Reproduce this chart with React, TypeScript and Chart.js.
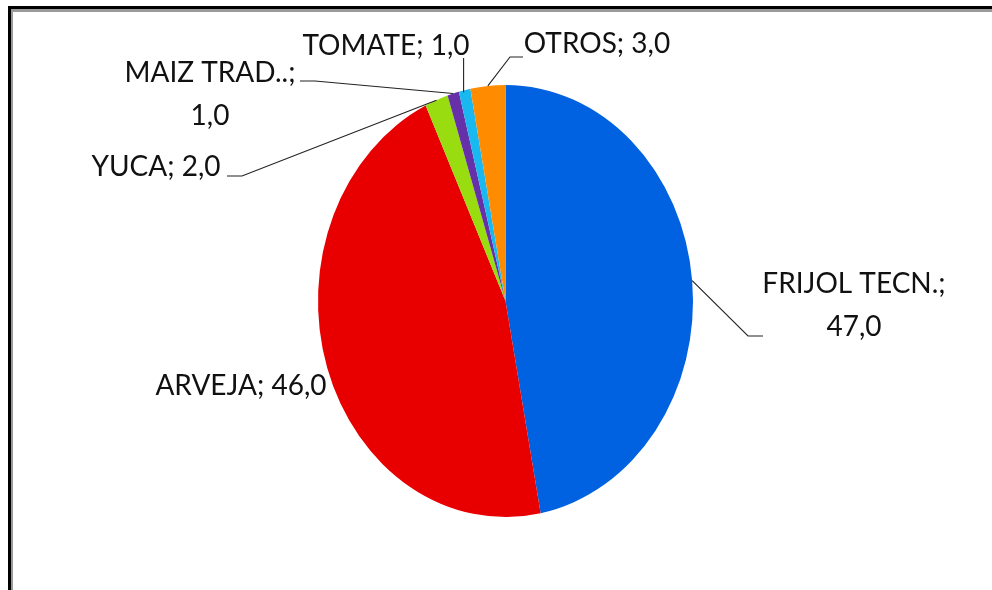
import React, { useEffect, useRef } from "react";
import { Chart, registerables } from "chart.js";

Chart.register(...registerables);

const categories = ["FRIJOL TECN.", "ARVEJA", "YUCA", "MAIZ TRAD..", "TOMATE", "OTROS"];
const values = [47.0, 46.0, 2.0, 1.0, 1.0, 3.0];
const colors = ["#0062E0", "#E80000", "#99DD11", "#6530A8", "#1AB8F0", "#FF8C00"];

// label layout: text centre x, baseline y, wrap after ";", optional elbow & stub end
const labelLayout = [
  { cx: 854, by: 293, wrap: true, elbow: [748, 336], stub: [763, 336] },
  { cx: 241, by: 395, wrap: false, elbow: null, stub: null },
  { cx: 156, by: 176, wrap: false, elbow: [242, 176], stub: [227, 176] },
  { cx: 210, by: 82, wrap: true, elbow: [315, 81], stub: [300, 81] },
  { cx: 386, by: 55, wrap: false, elbow: "vertical", stub: 58 },
  { cx: 597, by: 53, wrap: false, elbow: [510, 57], stub: [523, 57] },
];

const Y_STRETCH = 1.152;
const FONT = "28px Lato, 'Liberation Sans', sans-serif";

const fmt = (v: number) => v.toFixed(1).replace(".", ",");

const ellipsePlugin = {
  id: "ellipsePie",
  beforeDraw(chart: any) {
    const ctx = chart.ctx;
    ctx.save();
    ctx.fillStyle = "#ffffff";
    ctx.fillRect(0, 0, chart.width, chart.height);
    // frame
    ctx.fillStyle = "#000000";
    ctx.fillRect(8, 6, chart.width - 8, 3);
    ctx.fillRect(8, 6, 3, chart.height - 6);
    ctx.fillStyle = "#9a9a9a";
    ctx.fillRect(11, 9, chart.width - 11, 3);
    ctx.fillRect(11, 9, 2, chart.height - 9);
    ctx.restore();
  },
  beforeDatasetsDraw(chart: any) {
    const ctx = chart.ctx;
    const a = chart.chartArea;
    const cx = (a.left + a.right) / 2;
    const cy = (a.top + a.bottom) / 2;
    ctx.save();
    ctx.translate(cx, cy);
    ctx.scale(1, Y_STRETCH);
    ctx.translate(-cx, -cy);
  },
  afterDatasetsDraw(chart: any) {
    chart.ctx.restore();
  },
  afterDraw(chart: any) {
    const ctx = chart.ctx;
    const meta = chart.getDatasetMeta(0);
    ctx.save();
    ctx.font = FONT;
    ctx.fillStyle = "#111111";
    ctx.strokeStyle = "#222222";
    ctx.lineWidth = 1.1;
    ctx.textAlign = "center";
    ctx.textBaseline = "alphabetic";
    meta.data.forEach((arc: any, i: number) => {
      const L = labelLayout[i];
      const mid = (arc.startAngle + arc.endAngle) / 2;
      const ax = arc.x + Math.cos(mid) * arc.outerRadius;
      const ay = arc.y + Math.sin(mid) * arc.outerRadius * Y_STRETCH;
      if (L.elbow === "vertical") {
        ctx.beginPath();
        ctx.moveTo(ax - 1, ay + 2);
        ctx.lineTo(ax - 1, L.stub as number);
        ctx.stroke();
      } else if (L.elbow) {
        const e = L.elbow as number[];
        const s = L.stub as number[];
        ctx.beginPath();
        ctx.moveTo(ax, ay);
        ctx.lineTo(e[0], e[1]);
        ctx.lineTo(s[0], s[1]);
        ctx.stroke();
      }
      const val = fmt(values[i]);
      if (L.wrap) {
        ctx.fillText(categories[i] + ";", L.cx, L.by);
        ctx.fillText(val, L.cx, L.by + 43);
      } else {
        ctx.fillText(categories[i] + "; " + val, L.cx, L.by);
      }
    });
    ctx.restore();
  },
};

export default function App() {
  const ref = useRef<HTMLCanvasElement | null>(null);
  useEffect(() => {
    if (!ref.current) return;
    const chart = new Chart(ref.current, {
      type: "pie",
      data: {
        labels: categories,
        datasets: [
          {
            data: values,
            backgroundColor: colors,
            borderWidth: 0,
            clip: false as any,
          },
        ],
      },
      options: {
        responsive: false,
        animation: false,
        events: [],
        layout: { padding: { left: 318, right: 299, top: 113.5, bottom: 101.5 } },
        plugins: { legend: { display: false }, tooltip: { enabled: false } },
      },
      plugins: [ellipsePlugin],
    });
    return () => chart.destroy();
  }, []);
  return (
    <div style={{ position: "absolute", left: 0, top: 0, width: 992, height: 590 }}>
      <canvas ref={ref} width={992} height={590} style={{ display: "block" }} />
    </div>
  );
}
